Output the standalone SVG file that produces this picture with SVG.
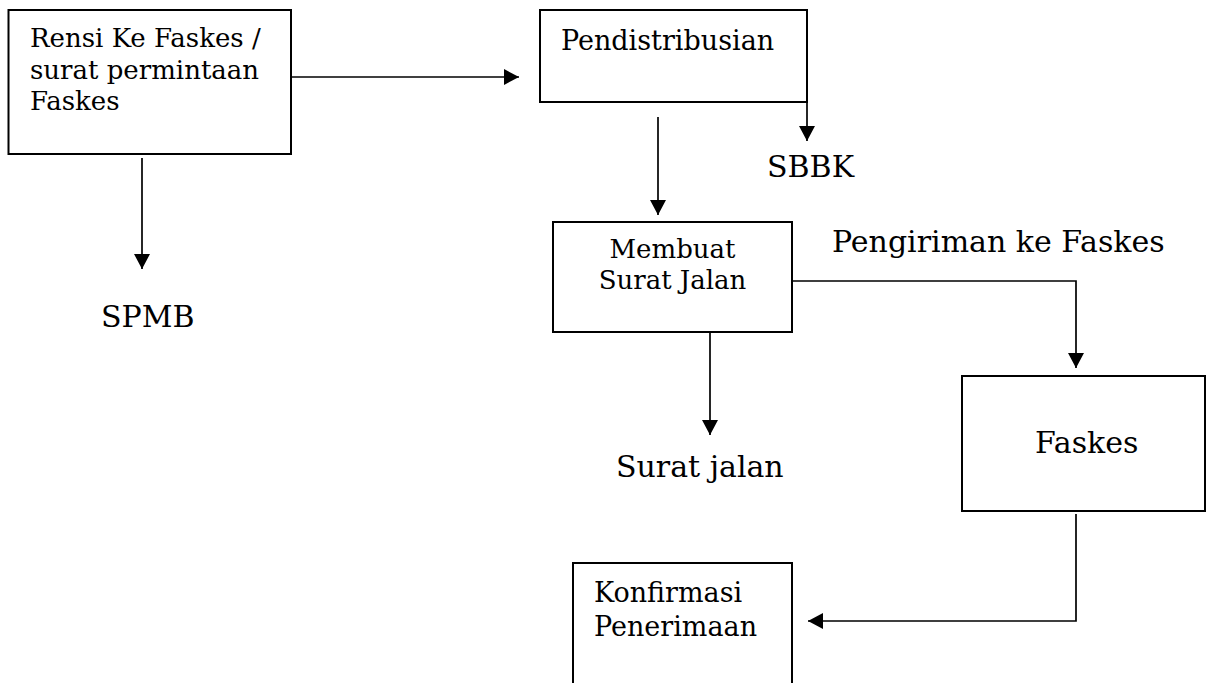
<svg xmlns="http://www.w3.org/2000/svg" width="1206" height="683" viewBox="0 0 1206 683">
<style>
.box{fill:#fff;stroke:#000;stroke-width:2}
.t{font-family:"DejaVu Serif","Liberation Serif",serif;fill:#000}
.s26{font-size:26px}
.s27{font-size:27px}
.s30{font-size:30px}
.c{fill:none;stroke:#000;stroke-width:1.7}
</style>
<defs>
<marker id="ah" markerUnits="userSpaceOnUse" markerWidth="15" markerHeight="16" refX="15" refY="8" orient="auto">
<path d="M0,0 L15,8 L0,16 z" fill="#000"/>
</marker>
</defs>
<rect width="1206" height="683" fill="#fff"/>
<g id="node-rensi">
<rect class="box" x="8.5" y="10" width="282.5" height="144"/>
<text class="t s26" x="30" y="47">Rensi Ke Faskes /</text>
<text class="t s26" x="30" y="79">surat permintaan</text>
<text class="t s26" x="30" y="110">Faskes</text>
</g>
<g id="node-pendistribusian">
<rect class="box" x="540" y="10" width="267" height="92"/>
<text class="t s27" x="561" y="50">Pendistribusian</text>
</g>
<g id="node-membuat">
<rect class="box" x="553" y="222" width="239" height="110"/>
<text class="t s26" x="672.5" y="258" text-anchor="middle">Membuat</text>
<text class="t s26" x="672.5" y="289" text-anchor="middle">Surat Jalan</text>
</g>
<g id="node-faskes">
<rect class="box" x="962" y="376" width="243" height="135"/>
<text class="t s30" x="1035" y="453">Faskes</text>
</g>
<g id="node-konfirmasi">
<path class="box" d="M573,700 V563 H792 V700"/>
<text class="t s27" x="594" y="602">Konfirmasi</text>
<text class="t s27" x="594" y="636">Penerimaan</text>
</g>
<g id="label-spmb"><text class="t s30" x="101" y="327">SPMB</text></g>
<g id="label-sbbk"><text class="t s30" x="767" y="177">SBBK</text></g>
<g id="label-suratjalan"><text class="t s30" x="616" y="477">Surat jalan</text></g>
<g id="label-pengiriman"><text class="t s30" x="832" y="252">Pengiriman ke Faskes</text></g>
<g id="connectors">
<path class="c" d="M291,77 H519" marker-end="url(#ah)"/>
<path class="c" d="M142,158 V269" marker-end="url(#ah)"/>
<path class="c" d="M807,102 V141" marker-end="url(#ah)"/>
<path class="c" d="M658,117 V215" marker-end="url(#ah)"/>
<path class="c" d="M710,332 V435" marker-end="url(#ah)"/>
<path class="c" d="M792,281 H1076 V368" marker-end="url(#ah)"/>
<path class="c" d="M1076,514 V621 H808" marker-end="url(#ah)"/>
</g>
</svg>
